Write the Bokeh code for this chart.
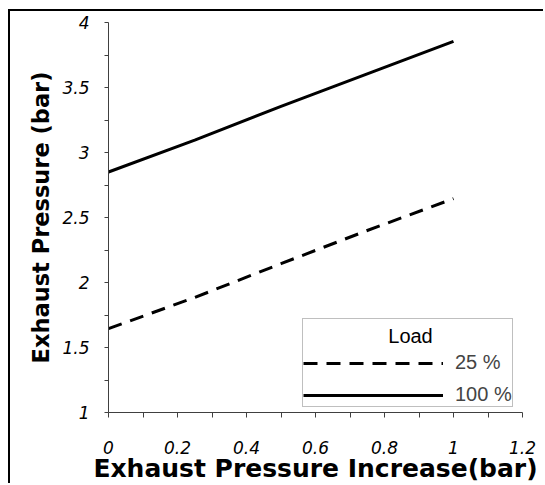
from bokeh.plotting import figure
from bokeh.models import Range1d, FixedTicker, Legend, LegendItem, Label
from bokeh.embed import file_html
from bokeh.resources import INLINE

# ---- data ----
x_increase = [0.0, 0.25, 0.5, 0.75, 1.0]
load_25 = [1.645, 1.885, 2.145, 2.40, 2.645]
load_100 = [2.85, 3.095, 3.355, 3.605, 3.855]
series_names = ["25 %", "100 %"]
legend_title = "Load"

x_ticks = [0.0, 0.2, 0.4, 0.6, 0.8, 1.0, 1.2]
x_tick_labels = ["0", "0.2", "0.4", "0.6", "0.8", "1", "1.2"]
x_minor_ticks = [0.1, 0.3, 0.5, 0.7, 0.9, 1.1]
y_ticks = [1.0, 1.5, 2.0, 2.5, 3.0, 3.5, 4.0]
y_tick_labels = ["1", "1.5", "2", "2.5", "3", "3.5", "4"]
y_minor_ticks = [1.25, 1.75, 2.25, 2.75, 3.25, 3.75]

x_title = "Exhaust Pressure Increase(bar)"
y_title = "Exhaust Pressure (bar)"

p = figure(width=535, height=474, output_backend="svg", toolbar_location=None,
           x_range=Range1d(0, 1.2), y_range=Range1d(1, 4),
           min_border_left=98, min_border_right=23, min_border_top=11, min_border_bottom=72)
p.styles = {"margin-left": "8px", "margin-top": "9px",
            "border-left": "2px solid black", "border-top": "2px solid black"}
p.outline_line_color = None
p.grid.visible = False
p.background_fill_color = "white"
p.border_fill_color = "white"

axis_color = "#404040"
for ax in (p.xaxis[0], p.yaxis[0]):
    ax.axis_line_color = axis_color
    ax.major_tick_line_color = axis_color
    ax.minor_tick_line_color = axis_color
    ax.major_tick_in = 0
    ax.minor_tick_in = 0
    ax.major_label_text_font = "DejaVu Sans"
    ax.major_label_text_font_style = "italic"
    ax.major_label_text_font_size = "17px"
    ax.major_label_text_color = "black"
    ax.axis_label_text_font = "DejaVu Sans"
    ax.axis_label_text_font_style = "bold"
    ax.axis_label_text_color = "black"

xa = p.xaxis[0]
xa.ticker = FixedTicker(ticks=x_ticks, minor_ticks=x_minor_ticks)
xa.major_label_overrides = dict(zip(x_ticks, x_tick_labels))
xa.major_tick_out = 5
xa.minor_tick_out = 5
xa.major_label_standoff = 23
xa.axis_label = x_title
xa.axis_label_text_font_size = "25px"
xa.axis_label_standoff = -3

ya = p.yaxis[0]
ya.ticker = FixedTicker(ticks=y_ticks, minor_ticks=y_minor_ticks)
ya.major_label_overrides = dict(zip(y_ticks, y_tick_labels))
ya.major_tick_out = 4
ya.minor_tick_out = 4
ya.major_label_standoff = 15
ya.axis_label = y_title
ya.axis_label_text_font_size = "22.5px"
ya.axis_label_standoff = 5

r25 = p.line(x_increase, load_25, line_color="black", line_width=3, line_dash="14 9")
r100 = p.line(x_increase, load_100, line_color="black", line_width=3)

# legend; its heading row is reserved by a blank title and "Load" is centred over it
legend = Legend(
    items=[LegendItem(label=series_names[0], renderers=[r25]),
           LegendItem(label=series_names[1], renderers=[r100])],
    title=" ", location=(194, 5), orientation="vertical",
    padding=0, margin=0, spacing=9, title_standoff=9,
    glyph_width=140, glyph_height=20, label_standoff=12, label_height=20,
    label_text_font="Liberation Sans", label_text_font_size="20px",
    title_text_font="Liberation Sans", title_text_font_size="20px",
    border_line_color="#808080", border_line_width=1,
    background_fill_color="white", background_fill_alpha=0.0,
)
p.add_layout(legend)

p.add_layout(Label(x=302, y=77, x_units="screen", y_units="screen", text=legend_title,
                   text_align="center", text_baseline="middle", level="overlay",
                   text_font="Liberation Sans", text_font_size="20px", text_color="black"))

open("out.html", "w").write(file_html(p, INLINE))
